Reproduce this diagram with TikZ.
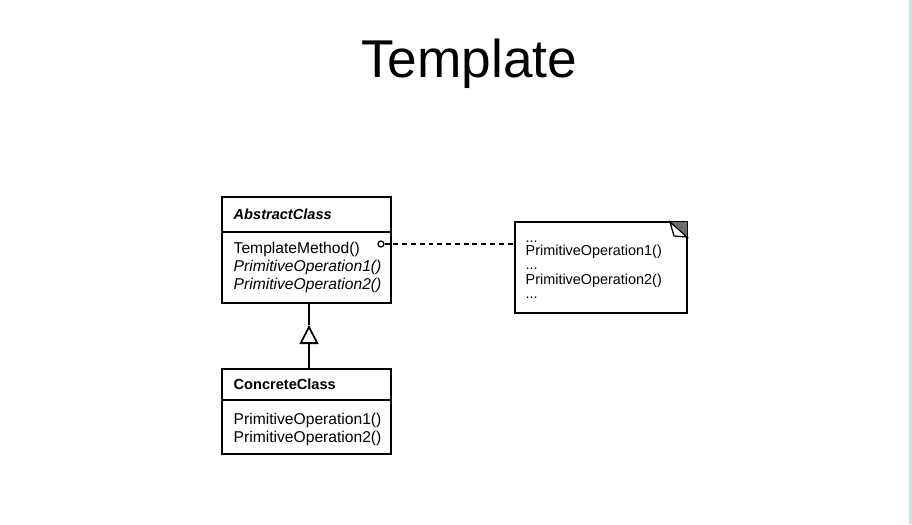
\documentclass[tikz,border=0pt]{standalone}
\usepackage{fontspec}
\setmainfont{Liberation Sans}
\usepackage{tikz}
\usetikzlibrary{positioning, calc, arrows.meta}
\definecolor{edgeteal}{RGB}{206,226,226}
\definecolor{eargray}{RGB}{110,110,110}

\begin{document}
\begin{tikzpicture}[x=0.02cm, y=-0.02cm, thick]

        % Block definitions
        \tikzstyle{classbox} = [draw, line width=1pt, rectangle, inner sep=0pt]
        \tikzstyle{member} = [anchor=base west, inner sep=0pt, font=\fontsize{8.9}{10}\selectfont]
        \tikzstyle{notetext} = [anchor=base west, inner sep=0pt, font=\fontsize{8.2}{10}\selectfont]

        % Page and side stripe
        \useasboundingbox (0,0) rectangle (912,524);
        \fill[white] (0,0) rectangle (912,524);
        \fill[edgeteal] (909,0) rectangle (912,524);

        % Title
        \node[anchor=base, inner sep=0pt, font=\fontsize{30.3}{36}\selectfont] (title) at (469,77) {Template};

        % Blocks
        \node[classbox, minimum width=169*0.02cm, minimum height=106*0.02cm] (abs) at (306.5,250) {};
        \node[classbox, minimum width=169*0.02cm, minimum height=85*0.02cm] (conc) at (306.5,411.5) {};
        \draw[line width=1pt] (abs.west |- 0,232) -- (abs.east |- 0,232);
        \draw[line width=1pt] (conc.west |- 0,400) -- (conc.east |- 0,400);

        % Class texts
        \node[member, font=\fontsize{8.3}{10}\selectfont\bfseries\itshape] (absname) at (233,219) {AbstractClass};
        \node[member] (tmethod) at (233,253) {TemplateMethod()};
        \node[member, font=\fontsize{8.9}{10}\selectfont\itshape] (absop1) at (233,271) {PrimitiveOperation1()};
        \node[member, font=\fontsize{8.9}{10}\selectfont\itshape] (absop2) at (233,289) {PrimitiveOperation2()};
        \node[member, font=\fontsize{8.3}{10}\selectfont\bfseries] (concname) at (233,389) {ConcreteClass};
        \node[member] (concop1) at (233,424) {PrimitiveOperation1()};
        \node[member] (concop2) at (233,442) {PrimitiveOperation2()};

        % Note with folded corner
        \coordinate (note) at (515,244);
        \draw[line width=1pt] (515,222) -- (687,222) -- (687,313) -- (515,313) -- cycle;
        \fill[eargray] (670,222) -- (687,222) -- (687,237) -- cycle;
        \draw[line width=0.7pt, fill=white] (670,222) -- (687,237) -- (674,236) -- cycle;
        \node[notetext] (dots1) at (525,242) {...};
        \node[notetext] (noteop1) at (525,255) {PrimitiveOperation1()};
        \node[notetext] (dots2) at (525,269) {...};
        \node[notetext] (noteop2) at (525,284) {PrimitiveOperation2()};
        \node[notetext] (dots3) at (525,298) {...};

        % Arrows
        \node[draw, circle, line width=0.7pt, inner sep=0pt, minimum size=6*0.02cm] (dot) at (381,244) {};
        \draw[line width=0.7pt, dash pattern=on 2.8pt off 2.2pt] (dot.east) -- (note);
        \coordinate (tip) at (309,325);
        \draw[line width=1pt] (tip |- abs.south) -- (tip);
        \draw[line width=1pt, -{Triangle[open, length=19*0.02cm, width=19*0.02cm, line width=1pt]}] (tip |- conc.north) -- (tip);

\end{tikzpicture}
\end{document}
